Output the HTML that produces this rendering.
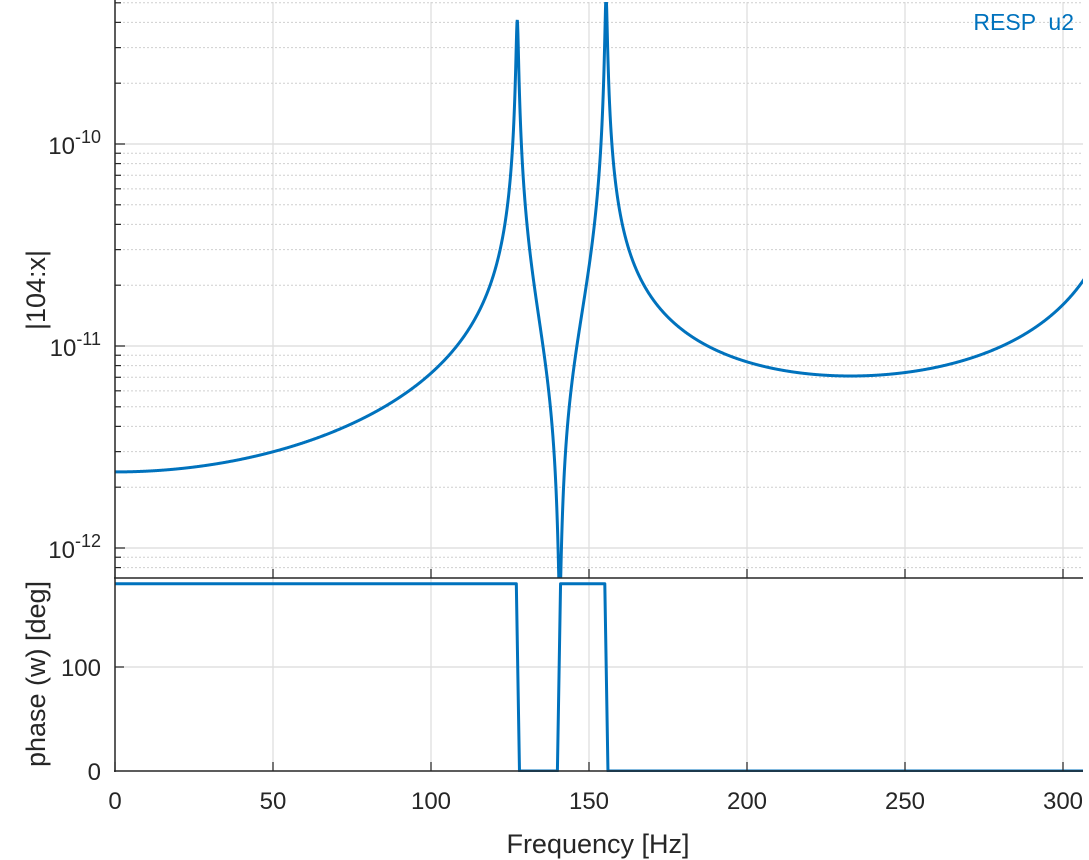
<!DOCTYPE html>
<html><head><meta charset="utf-8"><style>
body{margin:0;background:#fff;}
svg{display:block;font-family:"Liberation Sans",sans-serif;}
</style></head><body>
<svg id="s" width="1089" height="860" xmlns="http://www.w3.org/2000/svg"></svg>
<script>
const s=document.getElementById('s');
const X0=115,PX=3.16,XR=1083;
const Y10=144,DEC=202;
const yMag=v=>Y10-(Math.log10(v)+10)*DEC;
const yPh=p=>771-p*1.04;
const xf=f=>X0+f*PX;
let h='';
h+='<defs><clipPath id="c1"><rect x="115" y="2" width="968" height="576"/></clipPath><clipPath id="c2"><rect x="115" y="578" width="968" height="194"/></clipPath></defs>';
for(let f=50;f<=300;f+=50){h+=`<line x1="${xf(f)}" y1="2" x2="${xf(f)}" y2="771" stroke="#e3e3e3" stroke-width="1.5"/>`;}
for(let d=-13;d<=-9;d++){for(let m=1;m<=9;m++){const y=yMag(m*Math.pow(10,d));if(y<2||y>578)continue;
 if(m==1)h+=`<line x1="115" y1="${y}" x2="${XR}" y2="${y}" stroke="#e0e0e0" stroke-width="1.5"/>`;
 else h+=`<line x1="115" y1="${y}" x2="${XR}" y2="${y}" stroke="#cfcfcf" stroke-width="1" stroke-dasharray="2,2"/>`;
 h+=`<line x1="115" y1="${y}" x2="${m==1?125:121}" y2="${y}" stroke="#262626" stroke-width="1.2"/>`;}}
h+=`<line x1="115" y1="${yPh(100)}" x2="${XR}" y2="${yPh(100)}" stroke="#e0e0e0" stroke-width="1.5"/>`;
h+=`<line x1="115" y1="${yPh(100)}" x2="124" y2="${yPh(100)}" stroke="#262626" stroke-width="1.2"/>`;
const modes=[[2.22,127.3,0.0027],[2.26,155.4,0.0021],[-2.1,324,0.0021]];
function H(f){let re=0,im=0;for(const [r,fn,z] of modes){const q=f/fn,dr=1-q*q,di=2*z*q,den=dr*dr+di*di;re+=r*dr/den;im+=-r*di/den;}return [re,im];}
let p='';for(let f=0;f<=307;f+=0.1){const [re,im]=H(f);const v=Math.hypot(re,im)*1e-12;let y=yMag(v);if(y>700)y=700;p+=(p?'L':'M')+xf(f).toFixed(2)+','+y.toFixed(2);}
h+=`<path d="${p}" fill="none" stroke="#0072BD" stroke-width="3" clip-path="url(#c1)"/>`;
let q='';for(let f=0;f<=307;f+=1){const [re]=H(f);const ph=re>0?180:0;q+=(q?'L':'M')+xf(f).toFixed(2)+','+yPh(ph).toFixed(2);}
h+=`<path d="${q}" fill="none" stroke="#0072BD" stroke-width="3" stroke-linejoin="round" clip-path="url(#c2)"/>`;
h+=`<line x1="115" y1="0" x2="115" y2="772" stroke="#262626" stroke-width="1.5"/>`;
h+=`<line x1="114" y1="578" x2="${XR}" y2="578" stroke="#262626" stroke-width="1.5"/>`;
h+=`<line x1="114" y1="771" x2="${XR}" y2="771" stroke="#262626" stroke-width="1.5"/>`;
for(let f=0;f<=300;f+=50){const x=xf(f);h+=`<line x1="${x}" y1="771" x2="${x}" y2="762" stroke="#262626" stroke-width="1.2"/><line x1="${x}" y1="578" x2="${x}" y2="569" stroke="#262626" stroke-width="1.2"/>`;
 h+=`<text x="${x}" y="809" font-size="24" fill="#262626" text-anchor="middle">${f}</text>`;}
for(const [e,y] of [[-10,144],[-11,346],[-12,548]]){h+=`<text x="101" y="${y+10}" font-size="24" fill="#262626" text-anchor="end">10<tspan dy="-11" font-size="18">${e}</tspan></text>`;}
h+=`<text x="101" y="${yPh(100)+9}" font-size="24" fill="#262626" text-anchor="end">100</text>`;
h+=`<text x="101" y="${771+9}" font-size="24" fill="#262626" text-anchor="end">0</text>`;
h+=`<text x="598" y="853" font-size="27" fill="#262626" text-anchor="middle">Frequency [Hz]</text>`;
h+=`<text transform="translate(45,290) rotate(-90)" font-size="27" fill="#262626" text-anchor="middle">|104:x|</text>`;
h+=`<text transform="translate(45,674) rotate(-90)" font-size="27" fill="#262626" text-anchor="middle">phase (w) [deg]</text>`;
h+=`<text x="1074" y="30" font-size="23" fill="#0072BD" text-anchor="end" xml:space="preserve">RESP  u2</text>`;
s.innerHTML=h;
</script>
</body></html>
